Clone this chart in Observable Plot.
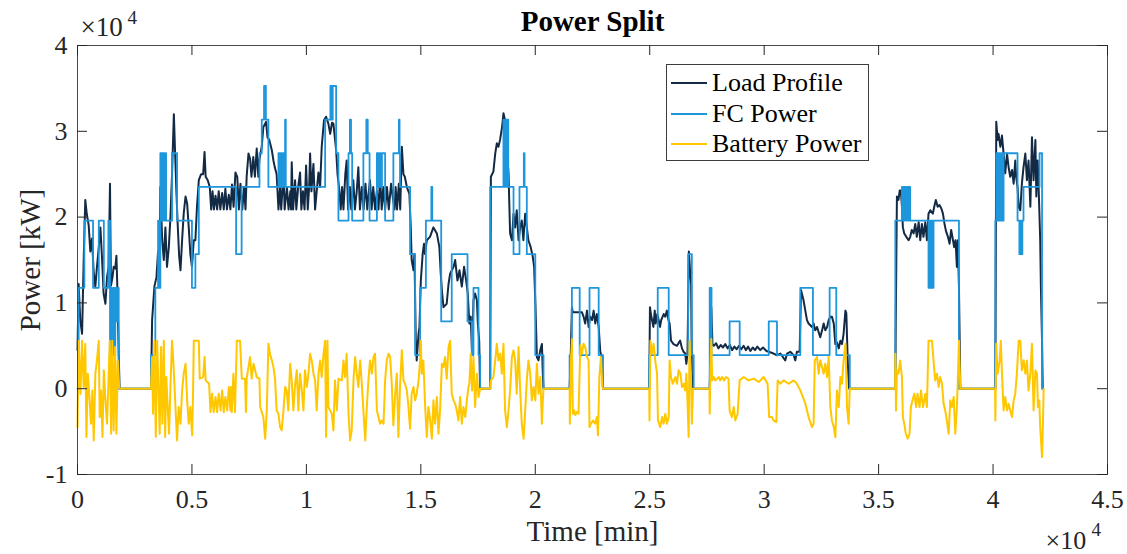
<!DOCTYPE html>
<html>
<head>
<meta charset="utf-8">
<script src="https://cdn.jsdelivr.net/npm/d3@7"></script>
<script src="https://cdn.jsdelivr.net/npm/@observablehq/plot@0.6"></script>
<style>
  body { margin: 0; background: #fff; }
  #wrap { position: relative; width: 1127px; height: 554px; overflow: hidden; }
  #legend { position: absolute; left: 666px; top: 64px; width: 203px; height: 97px; box-sizing: border-box;
    border: 1px solid #3c3c3c; background: #fff; font-family: "Liberation Serif", serif; font-size: 26px; color: #000; }
  .row { position: absolute; left: 4px; height: 30px; display: flex; align-items: center; white-space: nowrap; }
  .sw { display: inline-block; width: 36px; height: 0; border-top: 2px solid; margin-right: 5px; }
</style>
</head>
<body>
<div id="wrap"><div id="chart"></div><div id="legend"></div></div>
<script>
const xTicks = [0, 5000, 10000, 15000, 20000, 25000, 30000, 35000, 40000, 45000];
const yTicks = [-10000, 0, 10000, 20000, 30000, 40000];
const seriesNames = ["Load Profile", "FC Power", "Battery Power"];
const seriesColors = ["#132a45", "#1d96dc", "#ffc700"];

// [time (min), power (kW)]
const loadProfile = [
[0,4500],[50,12200],[120,8000],[200,6400],[270,15000],[340,22000],[400,20500],[490,19000],[560,16000],[630,17500],[710,13500],[780,11900],[850,14200],[930,16500],[1000,18800],[1070,15300],[1140,11100],[1220,9900],[1290,13000],[1360,14200],[1420,23900],[1460,12000],[1530,13000],[1580,14200],[1650,14000],[1700,15500],[1750,11000],[1800,4000],[1840,0],
[3210,0],[3260,8000],[3360,11900],[3450,13000],[3520,16000],[3580,13500],[3620,23500],[3700,17300],[3770,15000],[3840,18800],[3910,14200],[3990,16500],[4060,20000],[4130,25000],[4210,32000],[4260,27800],[4320,23000],[4380,19000],[4440,15500],[4500,13800],[4570,17300],[4640,20400],[4720,22400],[4790,21600],[4860,18800],[4930,15700],[5000,14200],[5080,17300],[5150,17300],[5220,21200],[5300,24300],[5400,25000],[5490,25000],[5550,27600],[5600,24700],[5690,24300],[5780,23500],[5840,20900],[5900,23000],[5960,20900],[6030,22500],[6100,20900],[6170,23000],[6240,20900],[6320,22800],[6390,20900],[6460,23300],[6530,20900],[6610,22600],[6680,20900],[6750,23800],[6820,21200],[6900,25200],[6980,24700],[7050,20900],[7120,23900],[7200,20900],[7280,23500],[7340,20900],[7390,24700],[7470,27400],[7540,26800],[7600,24700],[7680,27000],[7750,24700],[7830,28000],[7900,24700],[7950,26800],[8050,28200],[8120,30500],[8240,31100],[8300,29300],[8380,29000],[8490,27800],[8560,26600],[8620,25800],[8700,25000],[8780,20900],[8850,23500],[8900,20900],[9000,25200],[9050,20900],[9150,23500],[9220,20900],[9300,23000],[9330,20900],[9360,26400],[9420,20900],[9506,24300],[9560,20900],[9640,23500],[9725,25200],[9780,20900],[9850,23000],[9920,20900],[9987,26000],[10060,20900],[10120,23500],[10162,27400],[10220,23000],[10308,26200],[10380,20900],[10450,23000],[10526,25200],[10600,23500],[10670,28200],[10770,31300],[10860,31700],[10960,30900],[11040,29700],[11120,31000],[11180,30900],[11300,27800],[11360,25000],[11440,23100],[11500,20900],[11560,23500],[11620,20900],[11700,25000],[11760,26600],[11820,20900],[11900,23500],[11960,20900],[12050,24300],[12120,20900],[12200,23000],[12270,25800],[12340,20900],[12420,23500],[12500,20900],[12580,23900],[12660,20900],[12720,22800],[12780,24300],[12850,20900],[12920,23500],[13000,20900],[13080,23100],[13150,20900],[13220,24700],[13290,20900],[13360,23500],[13440,20900],[13520,23500],[13600,20900],[13700,23900],[13770,22400],[13850,20900],[13900,23500],[13960,20900],[14040,23900],[14100,20900],[14170,28200],[14240,25000],[14300,24700],[14390,23500],[14500,22700],[14560,18800],[14600,15000],[14680,13800],[14720,15700],[14780,5600],[14820,3300],[14900,6400],[14940,7200],[15000,12600],[15080,15700],[15140,16900],[15180,15700],[15260,17300],[15400,17700],[15550,18800],[15700,18100],[15810,16500],[15870,13400],[15930,11100],[15990,9500],[16130,9900],[16210,12200],[16280,13400],[16430,14200],[16500,15000],[16600,12600],[16690,13800],[16790,11900],[16890,14200],[16980,12600],[17050,11100],[17120,7600],[17180,8400],[17240,3900],[17300,10300],[17370,11100],[17450,10300],[17490,7600],[17550,5600],[17590,0],
[18030,0],[18060,24700],[18170,25300],[18250,27400],[18320,28600],[18390,28200],[18460,29000],[18550,30500],[18610,32100],[18680,31300],[18760,27800],[18830,25100],[18900,18100],[18980,17300],[19050,20400],[19120,18800],[19190,20800],[19270,17300],[19340,18800],[19410,19600],[19480,17300],[19560,20400],[19630,18800],[19700,17300],[19800,16500],[19890,15400],[19950,14200],[20010,9500],[20070,3700],[20140,3300],[20220,4500],[20290,5200],[20330,1700],[20360,0],
[21500,0],[21550,4000],[21600,9500],[21640,8900],[21800,8900],[21950,8900],[22040,8900],[22110,8400],[22180,7600],[22260,9100],[22330,7200],[22400,8400],[22480,8000],[22550,9100],[22620,7600],[22690,8700],[22770,7200],[22840,4300],[22910,3700],[22960,0],
[24980,0],[25010,9500],[25050,8700],[25100,8000],[25160,7200],[25220,9100],[25260,7600],[25330,8700],[25390,8000],[25450,7200],[25500,8000],[25610,8700],[25680,8400],[25750,9100],[25820,8000],[25870,7600],[25930,5600],[26040,5200],[26190,5000],[26330,5600],[26410,4700],[26480,4300],[26550,4100],[26600,2900],[26650,4100],[26710,16000],[26770,13400],[26810,12200],[26840,1700],[26890,0],
[27620,0],[27690,9500],[27740,5200],[27800,5000],[27900,5300],[28000,4700],[28100,5100],[28200,4800],[28300,5200],[28400,4700],[28500,5100],[28600,4500],[28700,4900],[28800,4600],[28900,5000],[29000,4600],[29100,5000],[29200,4500],[29300,4900],[29400,4400],[29500,4800],[29600,4500],[29700,4900],[29830,4500],[29950,4800],[30100,4400],[30200,4300],[30410,4100],[30560,3900],[30710,4100],[30920,3300],[31000,4100],[31140,4300],[31290,3900],[31360,3300],[31430,4300],[31550,4300],[31610,11500],[31720,10300],[31870,8000],[31940,7600],[32090,7200],[32160,7600],[32230,6800],[32310,7200],[32450,6000],[32530,6800],[32600,7600],[32670,6800],[32750,7200],[32820,8000],[32890,8400],[32960,8400],[33040,7600],[33110,5200],[33180,5400],[33260,4700],[33330,5600],[33400,5200],[33470,6400],[33550,9100],[33590,8800],[33650,3300],[33710,0],
[35730,0],[35750,8000],[35800,22400],[35870,22000],[35920,23100],[35970,23100],[36020,21200],[36060,18800],[36120,18100],[36210,17700],[36310,17300],[36380,17700],[36450,18500],[36530,18100],[36600,19200],[36670,17700],[36750,19400],[36820,17300],[36890,19200],[36960,17700],[37040,19400],[37110,17300],[37180,20400],[37260,20800],[37370,20400],[37430,21200],[37500,22000],[37580,21200],[37660,21400],[37740,21000],[37810,20400],[37880,19200],[37950,18300],[38030,17700],[38100,16900],[38170,18500],[38250,17300],[38300,16500],[38360,17300],[38420,14200],[38460,17300],[38510,11900],[38570,0],
[40100,0],[40140,31100],[40200,29000],[40240,29700],[40320,28200],[40390,29500],[40460,27400],[40530,25100],[40610,27400],[40680,25800],[40750,24700],[40830,25500],[40900,23900],[40970,26600],[41010,24700],[41070,23500],[41120,21200],[41190,20800],[41260,23900],[41330,25800],[41410,27400],[41480,24300],[41550,26600],[41630,21200],[41700,29300],[41770,24300],[41850,29000],[41890,22400],[41950,26600],[42000,22700],[42060,17300],[42090,11900],[42140,5600],[42170,0]
];

// [time (min), FC power level (kW)] — held until next point
const fcPower = [
[0,0],[50,11760],[300,19600],[680,11760],[930,19600],[1150,11760],[1350,19600],[1420,3920],[1460,11760],[1500,3920],[1550,11760],[1600,3920],[1650,11760],[1700,7840],[1750,11760],[1800,0],
[3210,3920],[3400,11760],[3520,19600],[3560,11760],[3620,27440],[3680,19600],[3720,27440],[3780,19600],[3820,27440],[3870,19600],[4130,27440],[4350,19600],[5000,11760],[5150,15680],[5300,23520],[6930,15680],[7170,23520],[7950,27440],[8050,31360],[8150,35280],[8230,31360],[8340,23520],[8780,27440],[8830,23520],[8880,27440],[8930,23520],[8980,27440],[9030,23520],[9070,31360],[9100,23520],[10820,31360],[11050,35280],[11100,31360],[11150,35280],[11300,27440],[11400,19600],[11840,27440],[11900,31360],[11950,27440],[12000,19600],[12490,27440],[12620,31360],[12680,27440],[12760,19600],[13080,27440],[13150,23520],[13200,27440],[13260,23520],[13300,27440],[13440,19600],[13800,27440],[14040,31360],[14070,27440],[14090,23520],[14530,15680],[14750,3920],[14970,11760],[15220,19600],[15460,23520],[15500,19600],[15890,7840],[16350,15680],[17040,7840],[17230,3920],[17300,11760],[17520,3920],[17590,0],
[18030,23520],[18610,31360],[18650,23520],[18700,31360],[18740,23520],[18780,31360],[18820,23520],[19050,15680],[19310,23520],[19500,27440],[19530,23520],[19630,15680],[20000,3920],[20360,0],
[21500,3920],[21600,11760],[21940,3920],[22370,11760],[22770,3920],[22960,0],
[24980,3920],[25350,11760],[25830,3920],[26680,15680],[26840,3920],[26920,0],
[27620,11760],[27700,3920],[28490,7840],[28930,3920],[30200,7840],[30560,3920],[31580,11760],[32130,3920],[32860,11760],[33150,3920],[33740,0],
[35730,19600],[36020,23520],[36080,19600],[36130,23520],[36190,19600],[36240,23520],[36300,19600],[36340,23520],[36380,19600],[37180,11760],[37230,19600],[37270,11760],[37320,19600],[37360,11760],[37400,19600],[38510,0],
[40100,19600],[40140,27440],[40180,19600],[40220,27440],[40260,19600],[40300,27440],[40340,19600],[40380,27440],[40420,19600],[40460,27440],[41070,19600],[41150,15680],[41190,19600],[41230,15680],[41280,19600],[41330,23520],[42030,27440],[42140,0],[42200,0]
];

// [time (min), battery power (kW)]
const batteryPower = [
[0,-4500],[50,5600],[130,-600],[200,5600],[270,200],[340,5250],[390,-5640],[450,1750],[530,-1360],[590,-4080],[650,-200],[710,-6030],[780,1750],[850,3300],[930,5600],[970,-3310],[1030,-200],[1090,-5640],[1150,2140],[1220,-1360],[1290,-4080],[1360,1360],[1410,5600],[1470,-5250],[1520,5600],[1580,-4860],[1640,4860],[1700,-5250],[1760,3300],[1820,200],[1850,0],
[3210,0],[3260,3700],[3300,-2920],[3360,5600],[3420,-5640],[3480,5600],[3540,-200],[3590,-5250],[3650,4860],[3710,-4080],[3770,5600],[3830,-5640],[3880,1360],[3940,-2140],[4000,-5250],[4060,200],[4130,5600],[4200,2530],[4280,-2140],[4350,-6030],[4420,-2140],[4500,-4080],[4570,-200],[4640,1750],[4720,2920],[4790,-1360],[4860,-4080],[4930,-2140],[5010,-5440],[5050,-200],[5080,5600],[5300,5600],[5340,1170],[5490,1360],[5550,3700],[5600,970],[5750,580],[5810,-2730],[5880,-580],[5950,-2730],[6030,-970],[6100,-2730],[6170,-580],[6250,-2530],[6320,-200],[6390,-2730],[6460,-970],[6540,-2530],[6610,200],[6680,-2530],[6710,200],[6740,-2730],[6810,1750],[6880,-2730],[6960,5600],[7100,5600],[7180,1170],[7320,1170],[7360,-2730],[7390,1170],[7540,3700],[7610,1170],[7690,2920],[7830,1360],[7950,1170],[7980,-2140],[8120,-3310],[8200,-5830],[8270,-2530],[8340,5250],[8410,4080],[8490,3300],[8560,2530],[8630,1170],[8700,-2530],[8780,-2920],[8850,-4470],[8920,-4860],[9000,-2530],[9070,200],[9140,-200],[9210,-2530],[9290,2920],[9360,970],[9430,-2530],[9510,580],[9580,2140],[9650,-2530],[9720,1750],[9800,-200],[9870,-2530],[9940,2140],[10020,200],[10090,1750],[10160,4080],[10230,3300],[10310,1750],[10380,970],[10450,-2530],[10530,1750],[10600,3300],[10670,1360],[10750,4080],[10820,5600],[10860,-5640],[10920,5600],[10960,-2140],[11110,-2920],[11180,-4860],[11250,970],[11330,-2530],[11400,1170],[11550,970],[11620,3300],[11690,1360],[11760,4080],[11840,-2920],[11910,-6030],[11980,-4860],[12060,1170],[12130,3700],[12200,1750],[12270,200],[12350,3300],[12420,580],[12490,-2530],[12570,-6030],[12640,-2140],[12710,970],[12780,3300],[12860,1750],[12930,3700],[13000,4080],[13080,-2530],[13150,-3310],[13220,-4080],[13290,-3700],[13370,-4080],[13440,970],[13510,3300],[13590,4080],[13660,3700],[13730,580],[13800,-4270],[13880,-580],[13950,1750],[14020,-5640],[14090,200],[14170,4470],[14240,970],[14310,580],[14390,-200],[14460,-2140],[14530,-4660],[14600,-580],[14680,200],[14750,-1360],[14820,-580],[14900,970],[14970,3300],[15000,5600],[15040,1750],[15110,3300],[15190,-2140],[15260,-5640],[15330,-2140],[15410,-3700],[15480,-5830],[15550,-1360],[15620,-4080],[15700,-970],[15770,-5250],[15840,-2530],[15920,2920],[15990,2530],[16060,3700],[16130,1170],[16210,4860],[16280,5600],[16350,-580],[16430,-1360],[16500,-1750],[16570,-2530],[16640,-3700],[16720,-970],[16790,-4080],[16860,-2140],[16940,-3310],[17010,-1360],[17080,200],[17120,580],[17180,4080],[17240,-200],[17300,3700],[17370,-2140],[17450,1750],[17520,-970],[17590,0],
[18030,0],[18060,970],[18170,1360],[18250,3300],[18320,5250],[18390,3300],[18470,4080],[18540,1750],[18610,5250],[18680,-2530],[18760,-4470],[18830,-2530],[18900,-200],[18980,3700],[19050,4470],[19120,3300],[19190,-580],[19270,4860],[19340,-200],[19410,-4080],[19490,-5830],[19560,-2530],[19630,970],[19700,3300],[19780,1750],[19850,-1360],[19920,200],[20000,-1360],[20070,2920],[20140,-580],[20220,1360],[20290,-4080],[20330,-1360],[20360,0],
[21500,0],[21510,-4080],[21560,3300],[21600,5800],[21640,-2920],[21700,-2530],[21750,-3100],[21820,-2700],[21890,-2920],[21970,5050],[22040,4080],[22110,5250],[22180,4860],[22260,3700],[22330,3300],[22370,-4470],[22430,-4080],[22520,-3700],[22620,-4080],[22690,-3310],[22740,-5440],[22800,1360],[22870,3700],[22930,200],[22960,0],
[24980,0],[24990,-3700],[25030,5600],[25100,4080],[25170,5250],[25240,3300],[25320,1750],[25360,-3700],[25460,-4470],[25540,-3310],[25610,-4080],[25680,-2920],[25750,-4080],[25830,-3310],[25870,3300],[25930,1360],[26010,580],[26120,1360],[26190,580],[26260,2140],[26340,1750],[26410,200],[26480,580],[26550,-200],[26600,1750],[26650,-1360],[26700,-5640],[26740,5600],[26800,1750],[26840,-4080],[26890,0],
[27610,0],[27620,-2920],[27650,1750],[27690,5800],[27730,970],[27800,1360],[27860,970],[27950,1170],[28020,1360],[28080,970],[28160,1360],[28250,970],[28330,1360],[28440,1170],[28490,-2530],[28590,-3310],[28670,-2140],[28740,-3700],[28840,-2920],[28930,970],[29100,1360],[29320,970],[29540,1170],[29760,780],[29980,1360],[30150,580],[30220,-3310],[30340,-3310],[30410,-3700],[30530,-3890],[30590,970],[30700,580],[30850,970],[31070,580],[31290,970],[31430,580],[31580,-200],[31800,-1750],[31940,-3310],[32090,-4470],[32160,-4080],[32210,3300],[32310,3700],[32380,1750],[32450,3300],[32530,2530],[32600,1750],[32670,2920],[32750,1360],[32820,3700],[32890,-2140],[32960,-3700],[33040,-4470],[33110,-5640],[33180,-200],[33260,-2140],[33330,1360],[33400,580],[33470,3300],[33550,5250],[33620,-2140],[33690,-4080],[33740,0],
[35720,0],[35730,4080],[35760,-2530],[35800,2140],[35870,1750],[35940,3300],[36020,1360],[36060,-3310],[36120,-4080],[36190,-5250],[36270,-5830],[36350,-5250],[36410,-2140],[36480,-1360],[36560,-580],[36640,-2140],[36700,-580],[36790,-2140],[36850,-200],[36940,-2140],[37040,-580],[37110,-2140],[37180,5600],[37330,5600],[37400,3300],[37470,970],[37550,1750],[37620,200],[37690,1360],[37770,580],[37840,-1750],[37910,-2530],[37980,-3700],[38060,-5250],[38130,-1360],[38200,-2140],[38280,-970],[38350,-5250],[38420,-2140],[38460,970],[38510,5600],[38570,0],
[40090,0],[40100,-3700],[40140,5250],[40200,1750],[40290,3300],[40340,5600],[40390,1750],[40460,-2530],[40530,-970],[40610,-2530],[40680,-1750],[40750,-2530],[40830,-3310],[40900,-1360],[40970,-580],[41040,1750],[41120,5600],[41190,5600],[41260,2140],[41340,3300],[41410,1750],[41480,3300],[41550,-200],[41630,1750],[41700,5250],[41770,-2530],[41850,2140],[41920,1750],[41960,-2140],[42020,-1360],[42060,-4470],[42140,-7970],[42180,-4080],[42210,0]
];

const tx = d => d[0];
const py = d => d[1];
const fmt = v => String(v / 1e4);
const tickColor = "#262626";
const mid = { lineAnchor: "middle" };

const chart = Plot.plot({
  width: 1127,
  height: 554,
  marginLeft: 77,
  marginRight: 20,
  marginTop: 45,
  marginBottom: 80,
  style: { fontFamily: "'Liberation Serif', serif", fontSize: "26px", color: tickColor, background: "#fff" },
  x: { domain: [0, 45000] },
  y: { domain: [-10000, 40000] },
  marks: [
    Plot.line(loadProfile, { x: tx, y: py, stroke: seriesColors[0], strokeWidth: 2 }),
    Plot.line(fcPower, { x: tx, y: py, stroke: seriesColors[1], strokeWidth: 1.8, curve: "step-after" }),
    Plot.line(batteryPower, { x: tx, y: py, stroke: seriesColors[2], strokeWidth: 2 }),
    Plot.frame({ stroke: "#4a4a4a", strokeWidth: 1 }),
    Plot.ruleX(xTicks, { x: d => d, insetTop: 419, stroke: tickColor }),
    Plot.ruleX(xTicks, { x: d => d, insetBottom: 419, stroke: tickColor }),
    Plot.ruleY(yTicks, { y: d => d, insetRight: 1020, stroke: tickColor }),
    Plot.ruleY(yTicks, { y: d => d, insetLeft: 1020, stroke: tickColor }),
    Plot.axisX(xTicks, { tickSize: 0, tickPadding: 15, tickFormat: fmt, label: null }),
    Plot.axisY(yTicks, { tickSize: 0, tickPadding: 10, tickFormat: fmt, label: null }),
    Plot.text(["Power Split"], { ...mid, text: d => d, frameAnchor: "top", textAnchor: "middle", dy: -24, fontWeight: "bold", fontSize: 29, fill: "#000" }),
    Plot.text(["Time [min]"], { ...mid, text: d => d, frameAnchor: "bottom", textAnchor: "middle", dy: 57, fontSize: 29, fill: tickColor }),
    Plot.text(["Power [kW]"], { ...mid, text: d => d, frameAnchor: "left", textAnchor: "middle", dx: -47, rotate: -90, fontSize: 29, fill: tickColor }),
    Plot.text(["×10"], { ...mid, text: d => d, frameAnchor: "top-left", textAnchor: "start", dx: 3, dy: -18, fontSize: 27, fill: tickColor }),
    Plot.text(["4"], { ...mid, text: d => d, frameAnchor: "top-left", textAnchor: "start", dx: 50, dy: -28, fontSize: 19, fill: tickColor }),
    Plot.text(["×10"], { ...mid, text: d => d, frameAnchor: "bottom-right", textAnchor: "start", dx: -62, dy: 66, fontSize: 26, fill: tickColor }),
    Plot.text(["4"], { ...mid, text: d => d, frameAnchor: "bottom-right", textAnchor: "start", dx: -16, dy: 55, fontSize: 19, fill: tickColor })
  ]
});
document.getElementById("chart").appendChild(chart);

const legend = document.getElementById("legend");
seriesNames.forEach((name, i) => {
  const row = document.createElement("div");
  row.className = "row";
  row.style.top = (3 + i * 30.5) + "px";
  const sw = document.createElement("span");
  sw.className = "sw";
  sw.style.borderTopColor = seriesColors[i];
  const label = document.createElement("span");
  label.textContent = name;
  row.appendChild(sw);
  row.appendChild(label);
  legend.appendChild(row);
});
</script>
</body>
</html>
